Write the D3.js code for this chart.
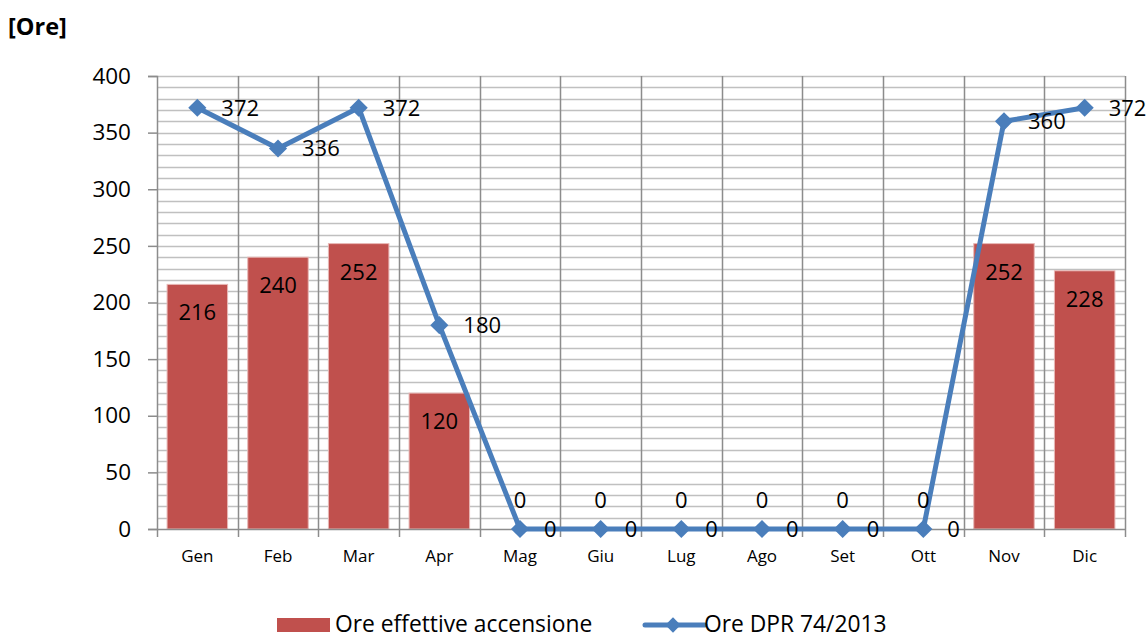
<!DOCTYPE html>
<html>
<head>
<meta charset="utf-8">
<script src="https://cdn.jsdelivr.net/npm/d3@7"></script>
<style>
  html, body { margin: 0; padding: 0; background: #ffffff; }
  svg { display: block; font-family: "Open Sans", "Liberation Sans", sans-serif; }
</style>
</head>
<body>
<svg id="chart" width="1147" height="640"></svg>
<script>
// Monthly heating hours
const months = ["Gen", "Feb", "Mar", "Apr", "Mag", "Giu", "Lug", "Ago", "Set", "Ott", "Nov", "Dic"];
const oreEffettive = [216, 240, 252, 120, 0, 0, 0, 0, 0, 0, 252, 228];
const oreDPR = [372, 336, 372, 180, 0, 0, 0, 0, 0, 0, 360, 372];
const yTicks = [0, 50, 100, 150, 200, 250, 300, 350, 400];
const seriesNames = ["Ore effettive accensione", "Ore DPR 74/2013"];
const unitLabel = "[Ore]";

const barColor = "#C0504D";
const lineColor = "#4A7EBB";

const svg = d3.select("#chart");
const plot = { left: 157, right: 1125, top: 76, bottom: 529 };

const x = d3.scaleBand()
  .domain(months)
  .range([plot.left, plot.right])
  .paddingInner(0.25)
  .paddingOuter(0.125);
const step = x.step();
const cx = m => x(m) + x.bandwidth() / 2;

const y = d3.scaleLinear().domain([0, 400]).range([plot.bottom, plot.top]);

// Minor horizontal gridlines every 10 hours
const gridVals = d3.range(10, 401, 10);
svg.append("g")
  .selectAll("line")
  .data(gridVals)
  .join("line")
  .attr("x1", plot.left).attr("x2", plot.right)
  .attr("y1", d => Math.round(y(d)) + 0.5).attr("y2", d => Math.round(y(d)) + 0.5)
  .attr("stroke", "#C0C0C0").attr("stroke-width", 1.5);

// Vertical gridlines at category boundaries
const boundaries = d3.range(1, months.length + 1).map(i => plot.left + i * step);
svg.append("g")
  .selectAll("line")
  .data(boundaries)
  .join("line")
  .attr("x1", d => Math.round(d) + 0.5).attr("x2", d => Math.round(d) + 0.5)
  .attr("y1", plot.top).attr("y2", plot.bottom)
  .attr("stroke", "#8C8C8C").attr("stroke-width", 1.5);

// Bars
svg.append("g")
  .selectAll("rect")
  .data(months.map((m, i) => ({ m, v: oreEffettive[i] })))
  .join("rect")
  .attr("x", d => x(d.m))
  .attr("y", d => y(d.v))
  .attr("width", x.bandwidth())
  .attr("height", d => y(0) - y(d.v))
  .attr("fill", barColor)
  .attr("stroke", "#E8B8B6")
  .attr("stroke-width", 1);

// Y axis
const yAxis = d3.axisLeft(y).tickValues(yTicks).tickSize(9).tickPadding(17).tickFormat(d3.format("d"));
const gy = svg.append("g").attr("transform", `translate(${plot.left},0)`).call(yAxis);
gy.select(".domain").attr("stroke", "#8C8C8C").attr("stroke-width", 1.5);
gy.selectAll(".tick line").attr("stroke", "#8C8C8C").attr("stroke-width", 1.5);
gy.selectAll(".tick text")
  .attr("font-family", "Open Sans, sans-serif")
  .attr("font-size", 22.5)
  .attr("fill", "#000");

// X axis: tick marks at category boundaries, labels centred
const gx = svg.append("g").attr("transform", `translate(0,${plot.bottom})`);
gx.append("line")
  .attr("x1", plot.left).attr("x2", plot.right)
  .attr("y1", 0.5).attr("y2", 0.5)
  .attr("stroke", "#8C8C8C").attr("stroke-width", 1.5);
gx.selectAll("line.tk")
  .data(d3.range(0, months.length + 1).map(i => plot.left + i * step))
  .join("line").attr("class", "tk")
  .attr("x1", d => Math.round(d) + 0.5).attr("x2", d => Math.round(d) + 0.5)
  .attr("y1", 0).attr("y2", 8)
  .attr("stroke", "#8C8C8C").attr("stroke-width", 1.5);
gx.selectAll("text")
  .data(months)
  .join("text")
  .attr("x", d => cx(d))
  .attr("y", 28)
  .attr("text-anchor", "middle")
  .attr("dominant-baseline", "middle")
  .attr("font-size", 17)
  .attr("fill", "#000")
  .text(d => d);

// Line series
const pts = months.map((m, i) => ({ m, v: oreDPR[i] }));
const line = d3.line().x(d => cx(d.m)).y(d => y(d.v));
svg.append("path")
  .datum(pts)
  .attr("d", line)
  .attr("fill", "none")
  .attr("stroke", lineColor)
  .attr("stroke-width", 5)
  .attr("stroke-linejoin", "round");

const diamond = d3.symbol().type(d3.symbolDiamond2).size(210);
svg.append("g")
  .selectAll("path")
  .data(pts)
  .join("path")
  .attr("transform", d => `translate(${cx(d.m)},${y(d.v)})`)
  .attr("d", diamond)
  .attr("fill", lineColor);

// Bar value labels (inside end)
svg.append("g")
  .selectAll("text")
  .data(months.map((m, i) => ({ m, v: oreEffettive[i] })))
  .join("text")
  .attr("x", d => cx(d.m))
  .attr("y", d => d.v === 0 ? y(0) - 27 : y(d.v) + 30)
  .attr("text-anchor", "middle")
  .attr("dominant-baseline", "middle")
  .attr("font-size", 22)
  .attr("fill", "#000")
  .text(d => d.v);

// Line value labels (right)
svg.append("g")
  .selectAll("text")
  .data(pts)
  .join("text")
  .attr("x", d => cx(d.m) + 24)
  .attr("y", d => y(d.v) + 2)
  .attr("text-anchor", "start")
  .attr("dominant-baseline", "middle")
  .attr("font-size", 22)
  .attr("fill", "#000")
  .text(d => d.v);

// Unit label
svg.append("text")
  .attr("x", 8).attr("y", 29)
  .attr("dominant-baseline", "middle")
  .attr("font-size", 23.5)
  .attr("font-weight", "bold")
  .attr("fill", "#000")
  .text(unitLabel);

// Legend
const legendDiamond = d3.symbol().type(d3.symbolDiamond2).size(150);
const lg = svg.append("g").attr("transform", "translate(0,625)");
lg.append("rect").attr("x", 277).attr("y", -7).attr("width", 53).attr("height", 14).attr("fill", barColor);
lg.append("text").attr("x", 335).attr("y", 1).attr("dominant-baseline", "middle")
  .attr("font-size", 22.8).attr("fill", "#000").text(seriesNames[0]);
lg.append("line").attr("x1", 645).attr("x2", 705).attr("y1", 0).attr("y2", 0)
  .attr("stroke", lineColor).attr("stroke-width", 5).attr("stroke-linecap", "round");
lg.append("path").attr("transform", "translate(673,0)").attr("d", legendDiamond).attr("fill", lineColor);
lg.append("text").attr("x", 704).attr("y", 1).attr("dominant-baseline", "middle")
  .attr("font-size", 22.8).attr("fill", "#000").text(seriesNames[1]);
</script>
</body>
</html>
